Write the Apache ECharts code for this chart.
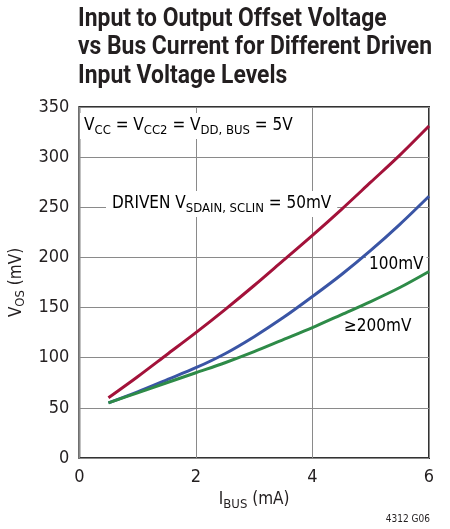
<!DOCTYPE html>
<html>
<head>
<meta charset="utf-8">
<script src="https://cdn.jsdelivr.net/npm/echarts@6/dist/echarts.min.js"></script>
<style>
  html, body { margin: 0; padding: 0; background: #fff; }
  #main { width: 450px; height: 529px; }
</style>
</head>
<body>
<div id="main"></div>
<script>
// 横轴 I_BUS (mA)
var busCurrent = [0.5, 1, 1.5, 2, 2.5, 3, 3.5, 4, 4.5, 5, 5.5, 6];
// V_OS (mV) 各驱动电压
var vos50mV  = [60, 81, 103, 125, 148, 172, 197, 222, 248, 275, 302, 331];
var vos100mV = [55, 66, 78, 90, 104, 121, 140, 161, 183, 207, 233, 261];
var vos200mV = [55, 65, 75, 85, 95, 106, 118, 130, 143, 156, 170, 186];
var xTicks = [0, 2, 4, 6];
var yTicks = [0, 50, 100, 150, 200, 250, 300, 350];

var FONT = "'DejaVu Sans Condensed', 'Liberation Sans', sans-serif";
var TXT = '#231f20';

function pairs(ys) {
    return busCurrent.map(function (x, i) { return [x, ys[i]]; });
}

function curve(name, ys, color) {
    return {
        name: name,
        type: 'line',
        smooth: 0.3,
        showSymbol: false,
        data: pairs(ys),
        lineStyle: { color: color, width: 3 },
        z: 5
    };
}

var subRich = {
    n: { fontFamily: FONT, fontSize: 17, color: TXT },
    s: { fontFamily: FONT, fontSize: 13, color: TXT, padding: [9, 0, 0, 0] }
};

var option = {
    animation: false,
    backgroundColor: '#fff',
    grid: {
        left: 77, right: 21, top: 107, bottom: 71,
        show: true,
        borderColor: '#333',
        borderWidth: 2,
        backgroundColor: 'transparent'
    },
    xAxis: {
        type: 'value',
        min: 0, max: 6, interval: 2,
        axisLine: { show: false },
        axisTick: { show: false },
        splitLine: { show: true, lineStyle: { color: '#8a8a8a', width: 1 } },
        axisLabel: {
            fontFamily: FONT, fontSize: 18, color: TXT, margin: 10,
            formatter: function (v) { return xTicks.indexOf(v) >= 0 ? String(v) : ''; }
        },
        name: '{n|I}{s|BUS}{n| (mA)}',
        nameLocation: 'middle',
        nameGap: 31,
        nameTextStyle: { rich: subRich }
    },
    yAxis: {
        type: 'value',
        min: 0, max: 350, interval: 50,
        axisLine: { show: false },
        axisTick: { show: false },
        splitLine: { show: true, lineStyle: { color: '#8a8a8a', width: 1 } },
        axisLabel: {
            fontFamily: FONT, fontSize: 18, color: TXT, margin: 10,
            formatter: function (v) { return yTicks.indexOf(v) >= 0 ? String(v) : ''; }
        },
        name: '{n|V}{s|OS}{n| (mV)}',
        nameLocation: 'middle',
        nameRotate: 90,
        nameGap: 38,
        nameTextStyle: { rich: subRich }
    },
    series: [
        curve('50mV', vos50mV, '#a3123a'),
        curve('100mV', vos100mV, '#3a55a5'),
        curve('≥200mV', vos200mV, '#2e8b48')
    ],
    graphic: [
        {
            // 标题：字体压窄模拟 Helvetica Condensed
            type: 'text', x: 78, y: 5, scaleX: 0.915,
            style: {
                text: 'Input to Output Offset Voltage\nvs Bus Current for Different Driven\nInput Voltage Levels',
                font: "bold 25px Roboto, 'Liberation Sans', sans-serif",
                lineHeight: 28.5,
                fill: TXT
            }
        },
        {
            type: 'text', left: 80, top: 113, z: 1,
            style: {
                text: '{n|V}{s|CC}{n| = V}{s|CC2}{n| = V}{s|DD, BUS}{n| = 5V}',
                rich: subRich, backgroundColor: '#fff', padding: [2, 4, 2, 4]
            }
        },
        {
            type: 'text', left: 106, top: 191, z: 1,
            style: {
                text: '{n|DRIVEN V}{s|SDAIN, SCLIN}{n| = 50mV}',
                rich: subRich, backgroundColor: '#fff', padding: [2, 6, 2, 6]
            }
        },
        {
            type: 'text', left: 366, top: 254, z: 1,
            style: {
                text: '{n|100mV}',
                rich: subRich, backgroundColor: '#fff', padding: [2, 3, 2, 3]
            }
        },
        {
            type: 'text', left: 342, top: 316, z: 1,
            style: {
                text: '{n|≥200mV}',
                rich: subRich, backgroundColor: '#fff', padding: [2, 2, 2, 2]
            }
        },
        {
            type: 'text', right: 20, bottom: 5,
            style: { text: '4312 G06', font: '10px ' + FONT, fill: TXT }
        }
    ]
};

var myChart = echarts.init(document.getElementById('main'), null, { renderer: 'canvas' });
myChart.setOption(option);
</script>
</body>
</html>
